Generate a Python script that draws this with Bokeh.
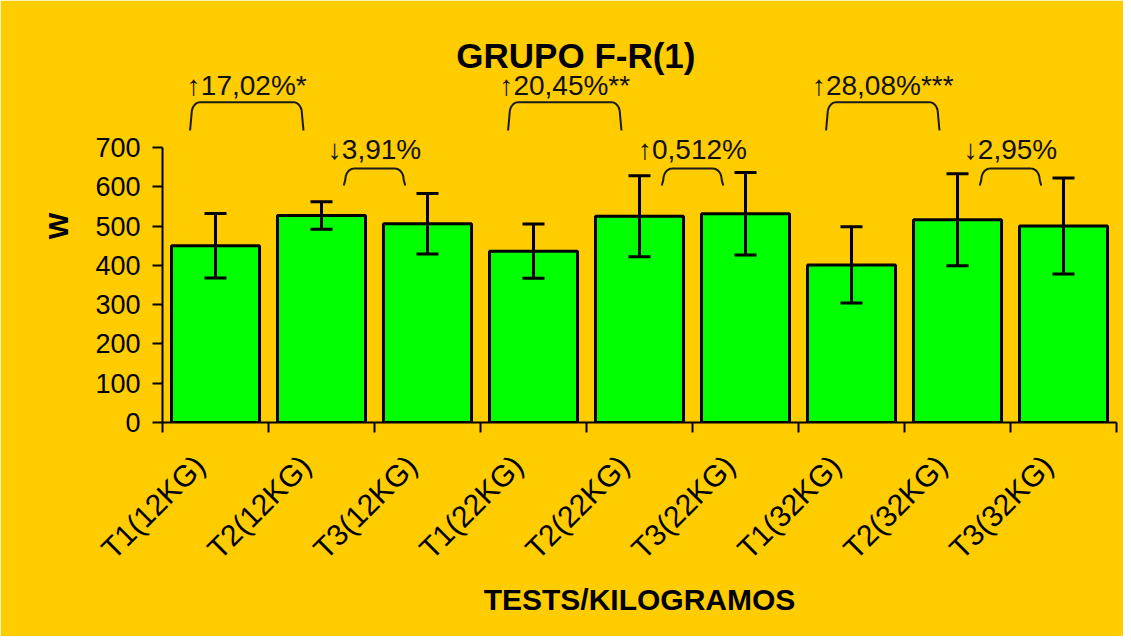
import numpy as np
from bokeh.plotting import figure
from bokeh.models import ColumnDataSource, Range1d, FixedTicker, Whisker, TeeHead, Label
from bokeh.core.properties import value
from bokeh.embed import file_html
from bokeh.resources import INLINE

# ---------------- data ----------------
categories = ["T1(12KG)", "T2(12KG)", "T3(12KG)",
              "T1(22KG)", "T2(22KG)", "T3(22KG)",
              "T1(32KG)", "T2(32KG)", "T3(32KG)"]
means = [450, 527, 506, 436, 525, 531, 401, 516, 500]
errors = [82, 35, 77, 69, 103, 105, 97, 117, 122]
y_ticks = [0, 100, 200, 300, 400, 500, 600, 700]

pair_left = [0, 1, 3, 4, 6, 7]
pair_right = [1, 2, 4, 5, 7, 8]
pair_labels = ["↑17,02%*", "↓3,91%", "↑20,45%**", "↑0,512%", "↑28,08%***", "↓2,95%"]
pair_level = ["high", "low", "high", "low", "high", "low"]

title_text = "GRUPO F-R(1)"
x_title = "TESTS/KILOGRAMOS"
y_title = "W"

# ---------------- style ----------------
GOLD = "#FFCC00"
GREEN = "#00FF00"
FONT = "Liberation Sans"

p = figure(width=1123, height=636,
           x_range=Range1d(0, len(categories)), y_range=Range1d(0, 1000),
           output_backend="svg", toolbar_location=None,
           min_border_left=162, min_border_right=7,
           min_border_top=29, min_border_bottom=214,
           background_fill_color=GOLD, border_fill_color=GOLD,
           outline_line_color=GOLD, outline_line_width=2)
p.grid.visible = False

xs = [i + 0.5 for i in range(len(categories))]
src = ColumnDataSource(dict(
    x=xs, top=means,
    upper=[m + e for m, e in zip(means, errors)],
    lower=[m - e for m, e in zip(means, errors)],
))

p.vbar(x="x", top="top", width=0.83, bottom=0, source=src,
       fill_color=GREEN, line_color="black", line_width=3)

wh = Whisker(base="x", upper="upper", lower="lower", source=src,
             dimension="height", line_color="black", line_width=3, level="overlay",
             upper_head=TeeHead(size=22, line_width=3, line_color="black"),
             lower_head=TeeHead(size=22, line_width=3, line_color="black"))
p.add_layout(wh)

# ---------------- brackets ----------------
level_geo = {
    "high": dict(off_l=-0.24, off_r=-0.17, yb=743, yt=815, ytext=858),
    "low": dict(off_l=0.21, off_r=-0.21, yb=603, yt=646, ytext=695),
}
rx, ry = 0.08, 28
bx, by, tx, ty = [], [], [], []
for i, j, lev in zip(pair_left, pair_right, pair_level):
    g = level_geo[lev]
    xl = xs[i] + g["off_l"]
    xr = xs[j] + g["off_r"]
    yb, yt = g["yb"], g["yt"]
    t = np.linspace(0, np.pi / 2, 10)
    lx = list(xl + 0.015 + rx - rx * np.cos(t))
    ly = list(yt - ry + ry * np.sin(t))
    rxs = list(xr - 0.015 - rx + rx * np.sin(t))
    rys = list(yt - ry + ry * np.cos(t))
    bx.append([xl] + lx + rxs + [xr])
    by.append([yb] + ly + rys + [yb])
    tx.append((xl + xr) / 2)
    ty.append(g["ytext"])

p.multi_line(bx, by, line_color="#1a1a1a", line_width=2)
p.text(x=tx, y=ty, text=pair_labels, text_font=value(FONT), text_font_size="28px",
       text_align="center", text_baseline="alphabetic", text_color="#111111")

p.add_layout(Label(x=3.9, y=935, text=title_text, text_font=FONT, text_font_size="35px",
                   text_font_style="bold", text_align="center", text_baseline="alphabetic",
                   text_color="black"))

# ---------------- axes ----------------
label_pos = [x - 0.15 for x in xs]
xa = p.xaxis[0]
xa.ticker = FixedTicker(ticks=label_pos, minor_ticks=list(range(len(categories) + 1)))
xa.major_label_overrides = {x: c for x, c in zip(label_pos, categories)}
xa.major_tick_out = 0
xa.major_tick_in = 0
xa.major_tick_line_color = None
xa.minor_tick_out = 10
xa.minor_tick_in = 0
xa.minor_tick_line_width = 2
xa.minor_tick_line_color = "black"
xa.axis_line_width = 2
xa.axis_line_color = "black"
xa.major_label_orientation = np.pi / 4
xa.major_label_standoff = 28
xa.major_label_text_font = FONT
xa.major_label_text_font_size = "30px"
xa.major_label_text_color = "black"
xa.axis_label = x_title
xa.axis_label_text_font = FONT
xa.axis_label_text_font_size = "30px"
xa.axis_label_text_font_style = "bold"
xa.axis_label_text_color = "black"
xa.axis_label_standoff = 3

ya = p.yaxis[0]
ya.ticker = FixedTicker(ticks=y_ticks)
ya.bounds = (0, 700)
ya.major_tick_out = 10
ya.major_tick_in = 0
ya.minor_tick_out = 0
ya.minor_tick_in = 0
ya.major_tick_line_width = 2
ya.axis_line_width = 2
ya.axis_line_color = "black"
ya.major_tick_line_color = "black"
ya.major_label_standoff = 12
ya.major_label_text_font = FONT
ya.major_label_text_font_size = "27px"
ya.major_label_text_color = "black"
ya.axis_label = y_title
ya.axis_label_text_font = FONT
ya.axis_label_text_font_size = "28px"
ya.axis_label_text_font_style = "bold"
ya.axis_label_text_color = "black"
ya.axis_label_standoff = 18

open("out.html", "w").write(file_html(p, INLINE))
